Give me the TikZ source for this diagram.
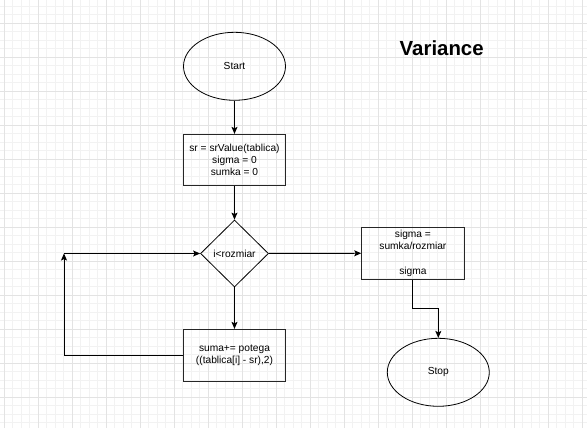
\documentclass[tikz,border=0pt]{standalone}
\usepackage{fontspec}
\setmainfont{Liberation Sans}
\usetikzlibrary{shapes.geometric,arrows.meta}
\tikzset{
  every node/.style={font=\fontsize{10.2pt}{12.2pt}\selectfont, text=black},
  procbox/.style={draw=black!85, line width=1pt, rectangle, inner sep=0pt, minimum width=102.4pt, align=center},
  termin/.style={draw=black, line width=0.8pt, ellipse, inner sep=0pt, minimum width=102pt, minimum height=68pt},
  decis/.style={draw=black, line width=0.8pt, diamond, inner sep=0pt, shape aspect=1, minimum width=68pt, minimum height=67pt},
  conn/.style={draw=black, line width=0.9pt, -{Stealth[length=7pt,width=6pt,inset=1.5pt]}},
}
\begin{document}
\begin{tikzpicture}[x=1pt,y=-1pt]
\useasboundingbox (0,0) rectangle (587,428);
\fill[white] (0,0) rectangle (587,428);
% grid
\foreach \i in {0,...,69} {
  \draw[black!5, line width=0.7pt] ({4.3+8.5*\i},0) -- ({4.3+8.5*\i},428);
}
\foreach \j in {0,...,50} {
  \draw[black!5, line width=0.7pt] (0,{6.3+8.5*\j}) -- (587,{6.3+8.5*\j});
}
\foreach \i in {0,...,17} {
  \draw[black!11, line width=0.8pt] ({4.3+34*\i},0) -- ({4.3+34*\i},428);
}
\foreach \j in {0,...,12} {
  \draw[black!11, line width=0.8pt] (0,{23.3+34*\j}) -- (587,{23.3+34*\j});
}
% title
\node[font=\fontsize{20.4pt}{24pt}\selectfont\bfseries] (title) at (441.7,48) {Variance};
% nodes
\node[termin] (start) at (234.5,66.3) {Start};
\node[procbox, minimum height=50.7pt] (init) at (234.5,159.7) {sr = srValue(tablica)\\sigma = 0\\sumka = 0};
\node[decis] (cond) at (234.5,253.5) {i<rozmiar};
\node[procbox, minimum height=51.7pt] (body) at (234.5,355.2) {suma+= potega\\((tablica[i] - sr),2)};
\node[procbox, minimum height=51.7pt] (res) at (412.9,253.2) {sigma =\\sumka/rozmiar\\\strut\\sigma};
\node[termin] (stop) at (438.3,372.3) {Stop};
\coordinate (loopc) at (64,253.5);
% connectors
\draw[conn] (start) -- (init);
\draw[conn] (init) -- (cond);
\draw[conn] (cond) -- (body);
\draw[conn] (cond) -- (res);
\draw[conn] (body.west) -| (loopc);
\draw[conn] (loopc) -- (cond.west);
\draw[conn] (res.south) -- ++(0,29.3) -| (stop.north);
\end{tikzpicture}
\end{document}
